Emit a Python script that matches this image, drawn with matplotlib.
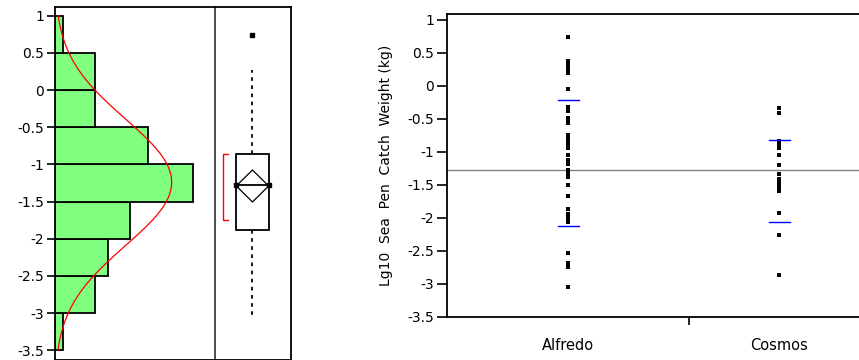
import matplotlib.pyplot as plt
import numpy as np

plt.rcParams['font.family'] = ['DejaVu Sans']
plt.rcParams['font.size'] = 10

# Distribution of log10 catch weight (all tows)
bin_edges = [-3.5, -3.0, -2.5, -2.0, -1.5, -1.0, -0.5, 0.0, 0.5, 1.0]
bin_counts = [2, 9, 12, 17, 31, 21, 9, 9, 2]
fit_mean = -1.24
fit_sd = 0.85

# Outlier box plot summary
box_q1, box_q3 = -1.88, -0.86
box_median = -1.28
whisker_low, whisker_high = -3.08, 0.27
outliers = [0.745]
mean_value = -1.29
mean_ci = 0.215
shortest_half = (-1.75, -0.86)

# Oneway plot by vessel
vessels = ['Alfredo', 'Cosmos']
alfredo_values = [0.747, 0.37, 0.33, 0.30, 0.27, 0.23, 0.20, -0.047, -0.325, -0.376,
                  -0.49, -0.52, -0.57, -0.745, -0.806, -0.85, -0.90, -0.947, -1.05,
                  -1.124, -1.19, -1.276, -1.317, -1.378, -1.504, -1.671, -1.873,
                  -1.94, -1.98, -2.02, -2.06, -2.54, -2.68, -2.75, -3.056]
cosmos_values = [-0.34, -0.41, -0.836, -0.88, -0.94, -1.05, -1.2, -1.34, -1.41,
                 -1.48, -1.53, -1.59, -1.924, -2.26, -2.87]
sd_lines = {'Alfredo': (-0.21, -2.13), 'Cosmos': (-0.826, -2.07)}
grand_mean = -1.28

y_ticks = np.arange(-3.5, 1.01, 0.5)
y_labels = ['-3.5', '-3', '-2.5', '-2', '-1.5', '-1', '-0.5', '0', '0.5', '1']

W, H = 859, 360
fig = plt.figure(figsize=(W / 100, H / 100), dpi=100)


def frac(x0, y0, x1, y1):
    """pixel box (left, top, right, bottom) -> figure rect"""
    return [x0 / W, 1 - y1 / H, (x1 - x0) / W, (y1 - y0) / H]


# --- histogram panel ---
ax_h = fig.add_axes(frac(54.5, 7, 215, 360))
ylo, yhi = -3.63, 1.117
centers = [(a + b) / 2 for a, b in zip(bin_edges[:-1], bin_edges[1:])]
ax_h.barh(centers, bin_counts, height=0.5, left=0, color='#80ff80',
          edgecolor='black', linewidth=1.3)
yy = np.linspace(-3.5, 1.0, 200)
dens = sum(bin_counts) * 0.5 / (fit_sd * np.sqrt(2 * np.pi)) * np.exp(-0.5 * ((yy - fit_mean) / fit_sd) ** 2)
ax_h.plot(dens, yy, color='red', lw=0.9)
ax_h.set_xlim(0, 36)
ax_h.set_ylim(ylo, yhi)
ax_h.set_xticks([])
ax_h.set_yticks(y_ticks)
ax_h.set_yticklabels(y_labels)
ax_h.tick_params(axis='y', length=5.5, width=1.2, pad=2)
for s in ax_h.spines.values():
    s.set_linewidth(1.3)
ax_h.spines['right'].set_visible(False)

# --- outlier box plot panel ---
ax_b = fig.add_axes(frac(215, 7, 291, 360))
ax_b.set_xlim(0, 1)
ax_b.set_ylim(ylo, yhi)
ax_b.set_xticks([])
ax_b.set_yticks([])
for s in ax_b.spines.values():
    s.set_linewidth(1.3)
ax_b.spines['left'].set_color('#404040')
cx, hw = 0.493, 0.213
ax_b.add_patch(plt.Rectangle((cx - hw, box_q1), 2 * hw, box_q3 - box_q1,
                             fill=False, edgecolor='black', lw=1.3))
ax_b.plot([cx - hw, cx + hw], [box_median, box_median], color='black', lw=1.3)
ax_b.plot([cx - hw, cx + hw], [box_median, box_median], 's', color='black', ms=2.5)
# means diamond
ax_b.plot([cx - hw, cx, cx + hw, cx, cx - hw],
          [mean_value, mean_value + mean_ci, mean_value, mean_value - mean_ci, mean_value],
          color='black', lw=0.9)
ax_b.plot([cx, cx], [box_q3, whisker_high], color='black', lw=1.3, ls=(0, (2, 2.5)))
ax_b.plot([cx, cx], [box_q1, whisker_low], color='black', lw=1.3, ls=(0, (2, 2.5)))
ax_b.plot([cx] * len(outliers), outliers, 's', color='black', ms=2.5)
# shortest half bracket
bx0, bx1 = 0.109, 0.167
ax_b.plot([bx1, bx0, bx0, bx1], [shortest_half[1], shortest_half[1], shortest_half[0], shortest_half[0]],
          color='red', lw=1.0)

# --- oneway plot ---
ax_o = fig.add_axes(frac(447.3, 14, 869, 316.7))
ax_o.set_ylim(-3.5, 1.09)
ax_o.set_xlim(-0.5735, 1.425)
ax_o.axhline(grand_mean, color='#808080', lw=1.0)
for i, vals in enumerate([alfredo_values, cosmos_values]):
    ax_o.plot([i] * len(vals), vals, 's', color='black', ms=2.4, mew=0)
    lo, hi = sd_lines[vessels[i]]
    for v in (lo, hi):
        ax_o.plot([i - 0.05, i + 0.05], [v, v], color='#0000ff', lw=1.0)
ax_o.set_yticks(y_ticks)
ax_o.set_yticklabels(y_labels)
ax_o.set_xticks([0, 1])
ax_o.set_xticklabels(vessels, fontsize=10.5)
ax_o.set_xticks([0.572], minor=True)
ax_o.tick_params(axis='x', which='major', length=0, pad=15)
ax_o.tick_params(axis='x', which='minor', length=6, width=1.2)
ax_o.tick_params(axis='y', length=7.5, width=1.2, pad=2)
ax_o.set_ylabel('Lg10  Sea  Pen  Catch  Weight (kg)', fontsize=10, labelpad=10)
for s in ax_o.spines.values():
    s.set_linewidth(1.3)

fig.savefig('out.png', dpi=100)
